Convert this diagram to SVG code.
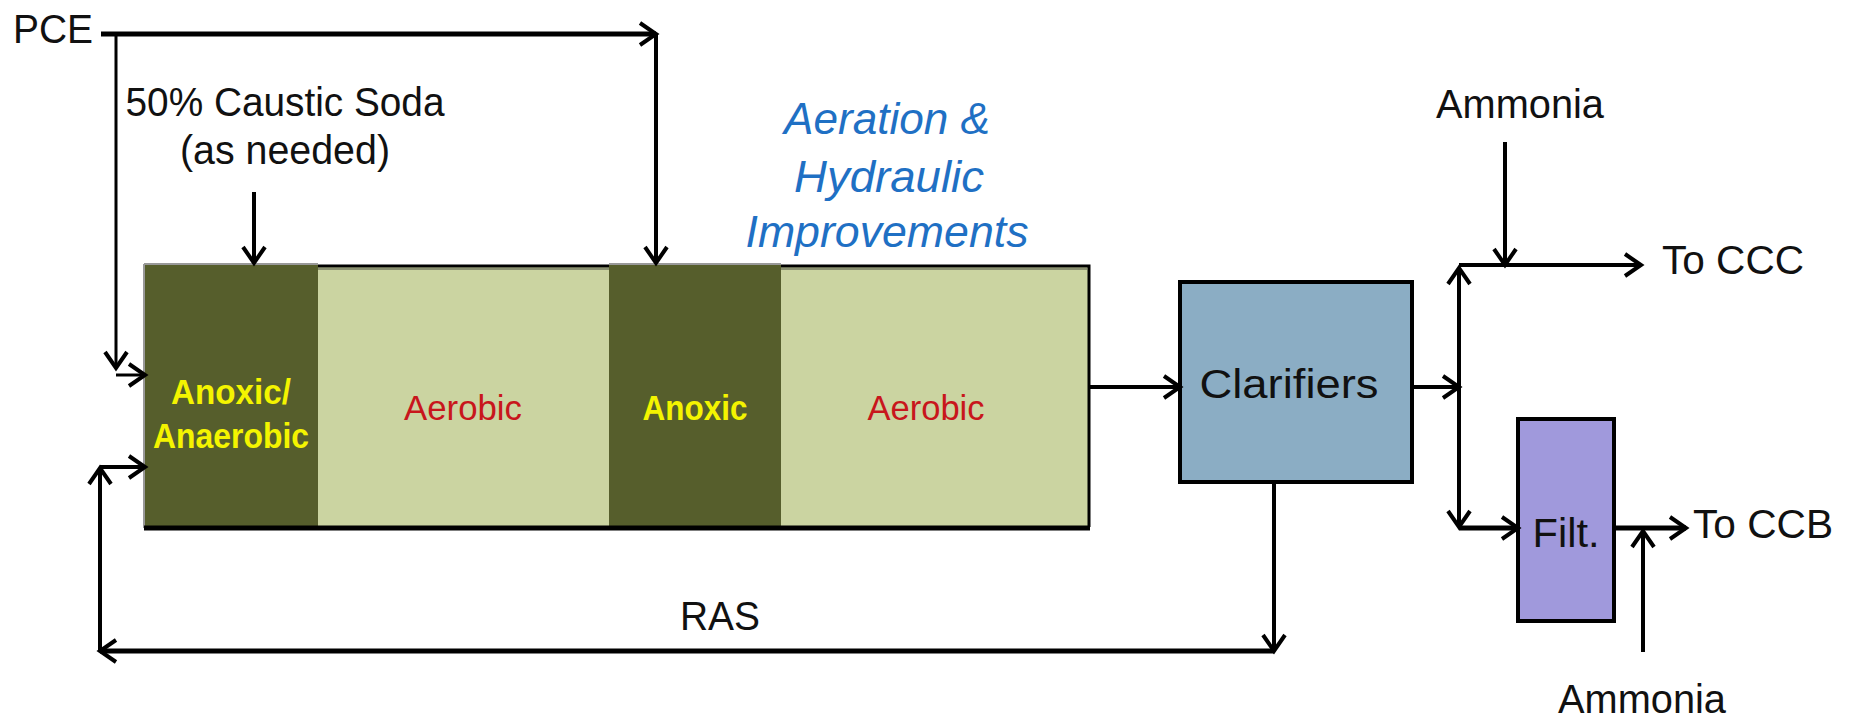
<svg xmlns="http://www.w3.org/2000/svg" width="1850" height="720" viewBox="0 0 1850 720">
<style>
.t{font-family:"Liberation Sans",Arial,sans-serif;fill:#111;font-size:40px}
.zy{font-family:"Liberation Sans",Arial,sans-serif;fill:#f4f400;font-size:35px}
.zr{font-family:"Liberation Sans",Arial,sans-serif;fill:#c8161c;font-size:35px}
.bl{font-family:"Liberation Sans",Arial,sans-serif;fill:#1f70c4;font-size:44px;font-style:italic}
.c{fill:none;stroke:#000;stroke-width:4}
.th{stroke-width:5}
.tn{stroke-width:3}
</style>
<defs>
<marker id="ah" viewBox="0 0 26 26" refX="22" refY="13" markerWidth="26" markerHeight="26" orient="auto-start-reverse" markerUnits="userSpaceOnUse">
<path d="M6,2 L22,13 L6,24" fill="none" stroke="#000" stroke-width="4"/>
</marker>
</defs>
<rect width="1850" height="720" fill="#fff"/>

<g id="basin">
<rect x="144" y="265" width="945" height="263" fill="#cbd4a1"/>
<rect x="144" y="265" width="174" height="263" fill="#565e2c"/>
<rect x="609" y="265" width="172" height="263" fill="#565e2c"/>
<path d="M318,266 H609 M781,266 H1089 V527" fill="none" stroke="#000" stroke-width="3"/>
<path d="M318,269 H609 M781,269 H1087" fill="none" stroke="#8a9070" stroke-width="2"/>
<path d="M144,264 H318 M609,264 H781" fill="none" stroke="#999" stroke-width="2"/>
<path d="M144,264 V528" fill="none" stroke="#999" stroke-width="2"/>
<path d="M144,528 H1090" fill="none" stroke="#000" stroke-width="5"/>
</g>
<g id="zone1">
<text class="zy" x="231" y="404" text-anchor="middle" font-weight="bold" textLength="120" lengthAdjust="spacingAndGlyphs">Anoxic/</text>
<text class="zy" x="231" y="448" text-anchor="middle" font-weight="bold" textLength="156" lengthAdjust="spacingAndGlyphs">Anaerobic</text>
</g>
<g id="zone2">
<text class="zr" x="463" y="420" text-anchor="middle" textLength="118" lengthAdjust="spacingAndGlyphs">Aerobic</text>
</g>
<g id="zone3">
<text class="zy" x="695" y="420" text-anchor="middle" font-weight="bold" textLength="105" lengthAdjust="spacingAndGlyphs">Anoxic</text>
</g>
<g id="zone4">
<text class="zr" x="926" y="420" text-anchor="middle" textLength="117" lengthAdjust="spacingAndGlyphs">Aerobic</text>
</g>

<g id="clarifiers">
<rect x="1180" y="282" width="232" height="200" fill="#8badc4" stroke="#000" stroke-width="4"/>
<text class="t" x="1289" y="398" text-anchor="middle" font-size="46" textLength="179" lengthAdjust="spacingAndGlyphs">Clarifiers</text>
</g>

<g id="filt">
<rect x="1518" y="419" width="96" height="202" fill="#a099dc" stroke="#000" stroke-width="4"/>
<text class="t" x="1566" y="547" text-anchor="middle" textLength="67" lengthAdjust="spacingAndGlyphs">Filt.</text>
</g>

<g id="labels">
<text class="t" x="13" y="43" textLength="80" lengthAdjust="spacingAndGlyphs">PCE</text>
<text class="t" x="285" y="116" text-anchor="middle" font-size="39" textLength="319" lengthAdjust="spacingAndGlyphs">50% Caustic Soda</text>
<text class="t" x="285" y="164" text-anchor="middle" font-size="39" textLength="210" lengthAdjust="spacingAndGlyphs">(as needed)</text>
<text class="bl" x="887" y="134" text-anchor="middle" textLength="206" lengthAdjust="spacingAndGlyphs">Aeration &amp;</text>
<text class="bl" x="889" y="192" text-anchor="middle" textLength="190" lengthAdjust="spacingAndGlyphs">Hydraulic</text>
<text class="bl" x="887" y="247" text-anchor="middle" textLength="283" lengthAdjust="spacingAndGlyphs">Improvements</text>
<text class="t" x="1436" y="118" textLength="168" lengthAdjust="spacingAndGlyphs">Ammonia</text>
<text class="t" x="1662" y="274" textLength="142" lengthAdjust="spacingAndGlyphs">To CCC</text>
<text class="t" x="1693" y="538" textLength="140" lengthAdjust="spacingAndGlyphs">To CCB</text>
<text class="t" x="1558" y="713" font-size="38" textLength="168" lengthAdjust="spacingAndGlyphs">Ammonia</text>
<text class="t" x="720" y="630" text-anchor="middle" textLength="80" lengthAdjust="spacingAndGlyphs">RAS</text>
</g>

<g id="connectors">
<path class="c th" d="M101,34 H656" marker-end="url(#ah)"/>
<path class="c" d="M656,34 V263" marker-end="url(#ah)"/>
<path class="c tn" d="M116,34 V368" marker-end="url(#ah)"/>
<path class="c tn" d="M116,375 H145" marker-end="url(#ah)"/>
<path class="c" d="M254,192 V263" marker-end="url(#ah)"/>
<path class="c" d="M1089,387 H1180" marker-end="url(#ah)"/>
<path class="c" d="M1412,387 H1459" marker-end="url(#ah)"/>
<path class="c" d="M1459,268 V527" marker-start="url(#ah)" marker-end="url(#ah)"/>
<path class="c" d="M1459,265 H1641" marker-end="url(#ah)"/>
<path class="c th" d="M1459,528 H1518" marker-end="url(#ah)"/>
<path class="c" d="M1505,142 V265" marker-end="url(#ah)"/>
<path class="c th" d="M1614,528 H1686" marker-end="url(#ah)"/>
<path class="c" d="M1643,652 V531" marker-end="url(#ah)"/>
<path class="c" d="M1274,482 V651" marker-end="url(#ah)"/>
<path class="c th" d="M1274,651 H100" marker-end="url(#ah)"/>
<path class="c" d="M100,651 V468" marker-end="url(#ah)"/>
<path class="c" d="M100,467 H145" marker-end="url(#ah)"/>
</g>
</svg>
